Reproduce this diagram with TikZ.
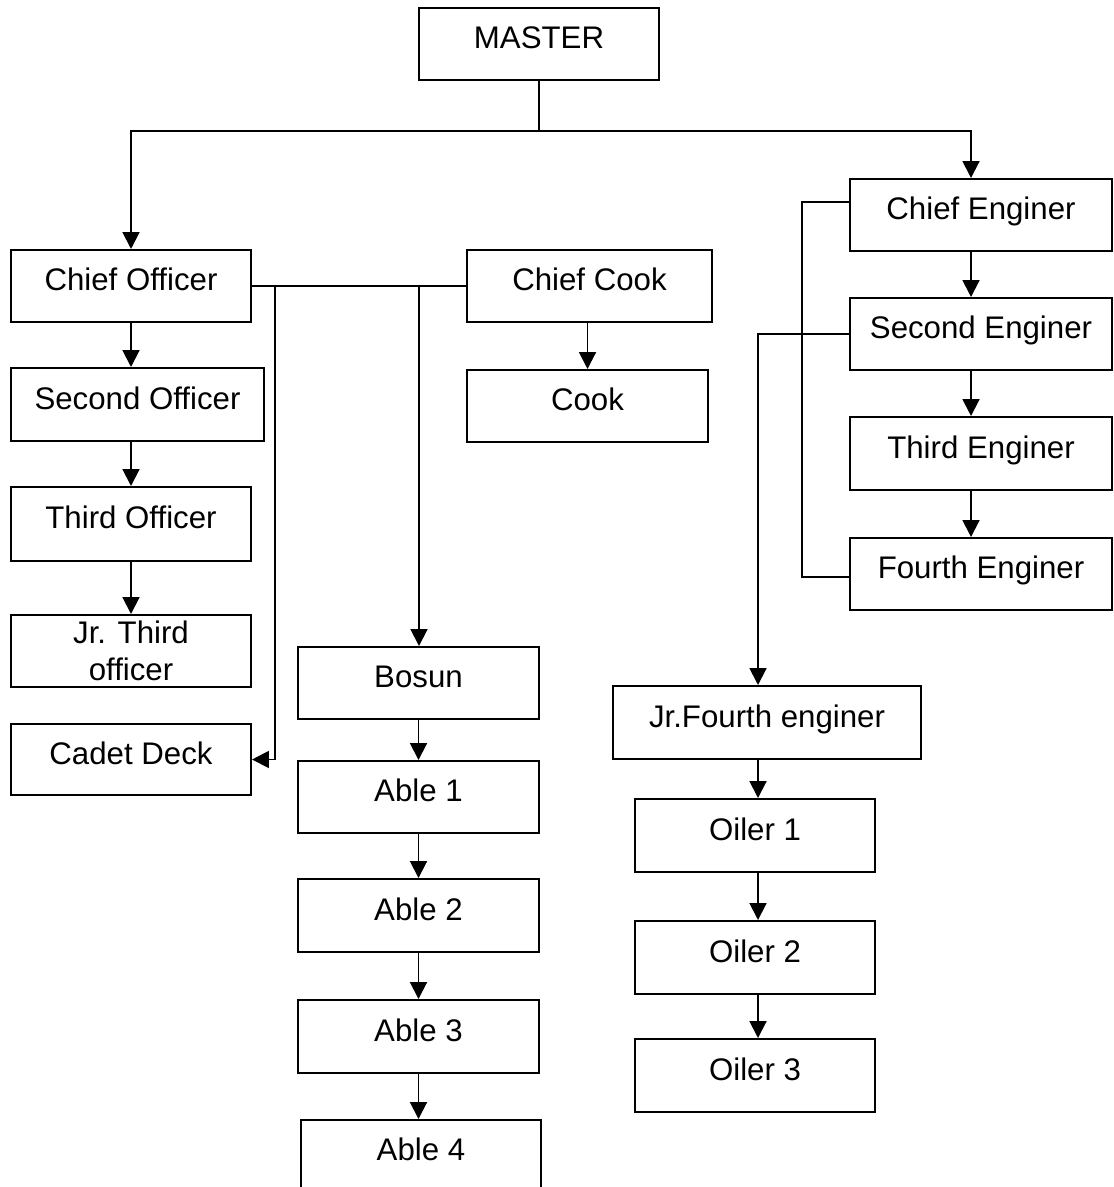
\documentclass[tikz,border=0pt]{standalone}
\usepackage{fontspec}
\setmainfont{Liberation Sans}
\usetikzlibrary{arrows.meta, positioning, calc}
\tikzset{%
  post/.style={draw, rectangle, line width=1.4pt, minimum width=6.025cm,
    minimum height=1.8cm, inner sep=0mm,
    font=\fontsize{22.2}{26.3}\selectfont, text height=0.72em, text depth=0.05em},
  twoline/.style={draw, rectangle, line width=1.4pt, minimum width=6cm,
    minimum height=1.8cm, inner sep=0mm, align=center,
    font=\fontsize{22.2}{26.3}\selectfont},
  link/.style={line width=1.4pt},
  move/.style={link, -{Triangle[width=4.2mm, length=4.2mm]}}
}
\begin{document}
\begin{tikzpicture}[x=0.025cm, y=-0.025cm]
  \useasboundingbox (0,0) rectangle (1113,1187);
  % posts
  \node[post, minimum width=6cm] (master) at (539,44) {MASTER};
  \node[post, minimum width=6cm] (chiefoff) at (131,286) {Chief Officer};
  \node[post, minimum width=6.325cm, minimum height=1.825cm] (secondoff) at (137.5,404.5) {Second Officer};
  \node[post, minimum width=6cm, minimum height=1.85cm] (thirdoff) at (131,524) {Third Officer};
  \node[twoline] (jrthird) at (131,651) {Jr. Third\\officer};
  \node[post, minimum width=6cm, minimum height=1.775cm] (cadet) at (131,759.5) {Cadet Deck};
  \node[post, minimum width=6.125cm] (chiefcook) at (589.5,286) {Chief Cook};
  \node[post] (cook) at (587.5,406) {Cook};
  \node[post, minimum width=6.55cm] (chiefeng) at (981,215) {Chief Enginer};
  \node[post, minimum width=6.55cm] (secondeng) at (981,334) {Second Enginer};
  \node[post, minimum width=6.55cm, minimum height=1.825cm] (thirdeng) at (981,453.5) {Third Enginer};
  \node[post, minimum width=6.55cm] (fourtheng) at (981,574) {Fourth Enginer};
  \node[post] (bosun) at (418.5,683) {Bosun};
  \node[post] (able1) at (418.5,797) {Able 1};
  \node[post, minimum height=1.825cm] (able2) at (418.5,915.5) {Able 2};
  \node[post, minimum height=1.825cm] (able3) at (418.5,1036.5) {Able 3};
  \node[post, minimum width=6cm] (able4) at (421,1156) {Able 4};
  \node[post, minimum width=7.7cm, minimum height=1.825cm] (jrfourth) at (767,722.5) {Jr.Fourth enginer};
  \node[post, minimum width=6cm, minimum height=1.825cm] (oiler1) at (755,835.5) {Oiler 1};
  \node[post, minimum width=6cm, minimum height=1.825cm] (oiler2) at (755,957.5) {Oiler 2};
  \node[post, minimum width=6cm, minimum height=1.825cm] (oiler3) at (755,1075.5) {Oiler 3};
  % master
  \coordinate (top) at (539,131);
  \coordinate (ex) at (971,131);
  \draw[link] (master) -- (top);
  \draw[move] (top) -| (chiefoff);
  \draw[move] (top) -- (ex) -- (ex |- chiefeng.north);
  % deck
  \draw[move] (chiefoff) -- (chiefoff |- secondoff.north);
  \draw[move] (secondoff.south -| chiefoff) -- (thirdoff);
  \draw[move] (thirdoff) -- (jrthird);
  \draw[link] (chiefoff) -- (chiefcook);
  \coordinate (cj) at (275,286);
  \coordinate (bj) at (419,286);
  \draw[move] (cj) |- (cadet);
  \draw[move] (bj) -- (bj |- bosun.north);
  \draw[move] (chiefcook.south -| cook) -- (cook);
  \draw[move] (bosun) -- (able1);
  \draw[move] (able1) -- (able2);
  \draw[move] (able2) -- (able3);
  \draw[move] (able3) -- (able3 |- able4.north);
  % engine
  \draw[move] (ex |- chiefeng.south) -- (ex |- secondeng.north);
  \draw[move] (ex |- secondeng.south) -- (ex |- thirdeng.north);
  \draw[move] (ex |- thirdeng.south) -- (ex |- fourtheng.north);
  \draw[link] ([yshift=0.325cm]chiefeng.west) -- ++(-47,0) |- ([yshift=-0.075cm]fourtheng.west);
  \coordinate (ox) at (758,0);
  \draw[move] (secondeng.west) -| (ox |- jrfourth.north);
  \draw[move] (ox |- jrfourth.south) -- (ox |- oiler1.north);
  \draw[move] (ox |- oiler1.south) -- (ox |- oiler2.north);
  \draw[move] (ox |- oiler2.south) -- (ox |- oiler3.north);
\end{tikzpicture}
\end{document}
